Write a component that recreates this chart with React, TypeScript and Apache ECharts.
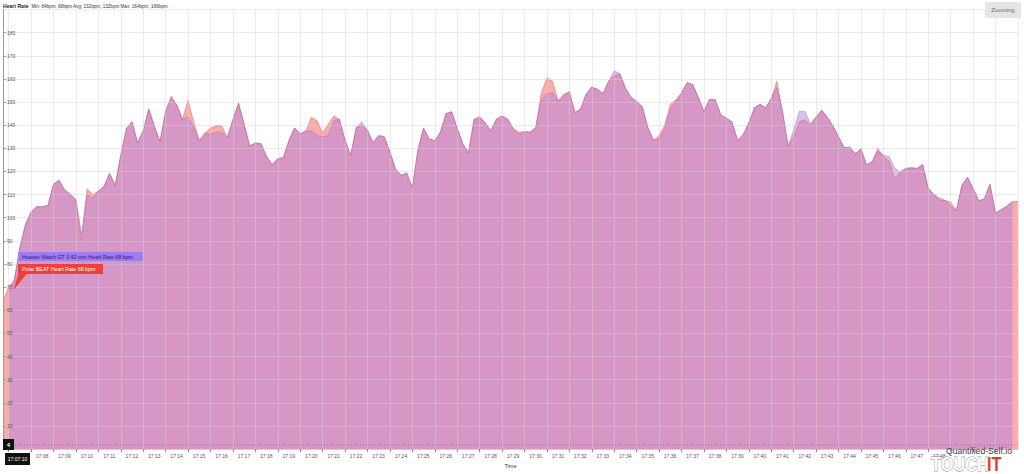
import React, { useEffect, useRef } from 'react';
import * as echarts from 'echarts';

// Time base: first Polar sample 17:06:45, one sample every 15 s
const START = Date.UTC(2022, 5, 1, 17, 6, 45);
const STEP_MS = 15000;

const polarBeat = [
  64, 70, 73, 87, 97, 102.5, 104.8, 104.8, 105.3, 114.5,
  116.2, 112, 110.2, 107.8, 90, 112.5, 110, 111.5, 113.5, 119.2,
  114, 127, 138.5, 141.5, 132.5, 137.5, 147, 139.5, 133, 146,
  152, 148.7, 142.5, 150.8, 141.5, 133.4, 136.5, 138.8, 139.8, 139.8,
  134.7, 142.5, 149.5, 140.5, 131, 132.3, 132, 126.5, 122.6, 125.5,
  126, 133.5, 138.8, 136.3, 137.5, 143.4, 142, 136.5, 140.5, 144,
  142.5, 133.5, 127, 139, 140, 137.7, 132.5, 135.5, 135, 128.5,
  121, 118.4, 119.5, 113, 129.5, 138.8, 134, 133.5, 137, 145,
  145.8, 138.7, 132, 128, 142.5, 143.8, 141, 137.5, 142.7, 144,
  142.6, 138.5, 137, 137.2, 137, 139, 154, 160.5, 159, 150.5,
  153.2, 154.5, 145.5, 147, 153.5, 156.5, 155.5, 153.7, 159, 161.5,
  162, 156, 152.1, 150.2, 148, 139, 133.5, 135.5, 140, 149,
  151, 154, 158.4, 157.5, 152, 146, 151.2, 151, 144.5, 143,
  141.5, 133.4, 136, 141, 147.5, 149, 147.5, 151.5, 159, 146,
  131, 135, 141.5, 142.3, 140, 143.5, 146.5, 143.4, 139.7, 135,
  130.3, 130.5, 127.6, 129.8, 122.8, 124.3, 130, 126.5, 124.5, 117,
  119.8, 121.3, 121.6, 121.3, 123, 112.7, 110, 108.5, 107.5, 106.8,
  103, 114, 117.5, 112.7, 107.3, 108.2, 114.5, 102, 103.5, 105,
  107, 107,
];

const huaweiGT3 = [
  null, 68, 73, 87, 97, 102.5, 104.8, 104.8, 105.3, 114.5,
  116.2, 112, 110.2, 107.8, 93, 110, 108.5, 111.5, 113.5, 119.2,
  114, 127, 138.5, 141.5, 132.5, 137.5, 147, 139.5, 133, 146,
  152.5, 148.7, 142.5, 143.5, 139, 133.4, 136.5, 136, 137, 137,
  134.7, 142.5, 149.5, 140.5, 131, 132.3, 132, 126.5, 123.3, 125.5,
  126, 133.5, 138.8, 136.3, 137.5, 137.5, 135.5, 135, 135.5, 142,
  142.5, 133.5, 127, 139, 141.5, 137.7, 132.5, 135.5, 135, 128.5,
  121, 118.4, 119, 113, 129.5, 138.8, 134, 133, 137, 145,
  145.8, 138.7, 132, 128, 142.5, 143, 141, 137.5, 142.7, 144,
  142.6, 138.5, 136, 137.2, 137, 139, 151, 153.5, 154, 150.5,
  153.2, 154.5, 145.5, 147, 153.5, 156.5, 155.5, 153.7, 159, 163.5,
  162.3, 156, 152.1, 150.2, 148, 139, 133.5, 134, 138.5, 147,
  150, 154, 158.4, 157.5, 152, 146, 151.2, 151, 144.5, 143,
  141.5, 133.4, 136, 141, 147.5, 149, 147.5, 151.5, 156.3, 146,
  131, 138, 146, 146, 140.5, 143.5, 146.5, 143.4, 139.7, 135,
  130.3, 130.5, 127.6, 129.8, 122.8, 124.3, 128.7, 127, 126.5, 121.5,
  119.8, 121.3, 121.6, 121.3, 123, 112.7, 110, 107.5, 107.5, 105.3,
  103, 114, 117.5, 112.7, 107.3, 108.2, 114.5, 102, 103.5, 105,
  107,
];

const Y_MIN = 0;
const Y_MAX = 190;
const Y_STEP = 10;

// minute labels hidden behind the cursor box / watermark in the reference
const HIDDEN_MINUTES = [7, 49, 50, 51];

const TITLE = 'Heart Rate';
const SUBTITLE = 'Min: 64bpm, 68bpm Avg: 132bpm, 132bpm Max: 164bpm, 166bpm';
const HUAWEI_TIP = 'Huawei Watch GT 3 42 mm Heart Rate 68 bpm';
const POLAR_TIP = 'Polar BEAT Heart Rate 68 bpm';
const CURSOR_TIME = '17:07:10';
const CURSOR_VALUE = '4';

const FONT = '"Liberation Sans", Arial, sans-serif';

const toSeries = (arr: (number | null)[]) =>
  arr
    .map((v, i) => (v == null ? null : [START + i * STEP_MS, v]))
    .filter((p) => p !== null) as [number, number][];

export default function App() {
  const ref = useRef<HTMLDivElement>(null);

  useEffect(() => {
    document.body.style.margin = '0';
    if (!ref.current) return;
    const chart = echarts.init(ref.current, undefined, { renderer: 'svg' });

    const fmt = (v: number) => {
      const d = new Date(v);
      const h = d.getUTCHours();
      const m = d.getUTCMinutes();
      if (h === 17 && HIDDEN_MINUTES.includes(m)) return '';
      return `${h}:${String(m).padStart(2, '0')}`;
    };

    chart.setOption({
      animation: false,
      backgroundColor: '#ffffff',
      textStyle: { fontFamily: FONT },
      grid: { left: 3, right: 6, top: 9.5, bottom: 21.7, containLabel: false },
      xAxis: {
        type: 'time',
        min: START,
        max: START + (polarBeat.length - 1) * STEP_MS,
        splitNumber: 45,
        minInterval: 60000,
        maxInterval: 60000,
        z: 4,
        axisLine: { show: true, lineStyle: { color: '#cfcfcf', width: 1 } },
        axisTick: { show: true, length: 3, lineStyle: { color: '#8a8a8a' } },
        axisLabel: {
          fontSize: 5,
          color: '#555',
          margin: 4,
          padding: [0, 0, 0, 22],
          showMinLabel: false,
          showMaxLabel: false,
          formatter: fmt,
        },
        splitLine: { show: true, lineStyle: { color: 'rgba(210,210,210,0.45)', width: 1 } },
        name: 'Time',
        nameLocation: 'middle',
        nameGap: 13,
        nameTextStyle: { fontSize: 5.5, color: '#333', fontFamily: FONT },
      },
      yAxis: {
        type: 'value',
        min: Y_MIN,
        max: Y_MAX,
        interval: Y_STEP,
        z: 4,
        axisLine: { show: true, lineStyle: { color: '#9a9a9a', width: 1 } },
        axisTick: { show: true, inside: true, length: 3, lineStyle: { color: '#9a9a9a' } },
        axisLabel: {
          inside: true,
          fontSize: 5,
          color: '#555',
          margin: 4,
          showMinLabel: false,
          showMaxLabel: false,
        },
        splitLine: { show: true, lineStyle: { color: 'rgba(210,210,210,0.45)', width: 1 } },
      },
      series: [
        {
          type: 'line',
          name: 'Polar BEAT Heart Rate',
          data: toSeries(polarBeat),
          symbol: 'none',
          showSymbol: false,
          z: 2,
          itemStyle: { color: '#f5554b' },
          lineStyle: { width: 0.8, color: 'rgba(230,90,85,0.6)' },
          areaStyle: { color: 'rgba(246,90,82,0.5)', opacity: 1 },
        },
        {
          type: 'line',
          name: 'Huawei Watch GT 3 42 mm Heart Rate',
          data: toSeries(huaweiGT3),
          symbol: 'none',
          showSymbol: false,
          z: 2,
          itemStyle: { color: '#af7de1' },
          lineStyle: { width: 0.8, color: 'rgba(150,95,190,0.5)' },
          areaStyle: { color: 'rgba(178,128,228,0.5)', opacity: 1 },
        },
      ],
      graphic: [
        {
          type: 'text', x: 3, y: 6, z: 100,
          style: { text: TITLE, fontSize: 5.1, fontWeight: 'bold', fill: '#222', fontFamily: FONT, verticalAlign: 'middle' },
        },
        {
          type: 'text', x: 31.5, y: 6, z: 100,
          style: { text: SUBTITLE, fontSize: 4.6, fill: '#333', fontFamily: FONT, verticalAlign: 'middle' },
        },
        {
          type: 'rect', z: 100, shape: { x: 985, y: 2, width: 36, height: 16, r: 1 },
          style: { fill: '#e5e5e5' },
        },
        {
          type: 'text', x: 1003, y: 10, z: 101,
          style: { text: 'Zooming', fontSize: 6, fill: '#666', fontFamily: FONT, align: 'center', verticalAlign: 'middle' },
        },
        // cursor
        {
          type: 'line', z: 90, shape: { x1: 3, y1: 445, x2: 1018, y2: 445 },
          style: { stroke: 'rgba(0,0,0,0.4)', lineWidth: 0.8, lineDash: [1, 2] },
        },
        {
          type: 'rect', z: 100, shape: { x: 18, y: 251.5, width: 125, height: 10 },
          style: { fill: 'rgb(160,122,240)', stroke: 'rgba(200,180,250,0.9)', lineWidth: 0.5 },
        },
        {
          type: 'text', x: 22, y: 256.7, z: 101,
          style: { text: HUAWEI_TIP, fontSize: 5.3, fill: '#2b1d6b', fontFamily: FONT, verticalAlign: 'middle' },
        },
        {
          type: 'polygon', z: 99, shape: { points: [[19, 272], [27, 273.5], [13.5, 290]] },
          style: { fill: '#ef3f39' },
        },
        {
          type: 'rect', z: 100, shape: { x: 18, y: 264, width: 85, height: 10 },
          style: { fill: '#ef3f39' },
        },
        {
          type: 'text', x: 22, y: 269.2, z: 101,
          style: { text: POLAR_TIP, fontSize: 5.3, fill: '#ffffff', fontFamily: FONT, verticalAlign: 'middle' },
        },
        {
          type: 'rect', z: 100, shape: { x: 3, y: 439, width: 11, height: 11 },
          style: { fill: '#111' },
        },
        {
          type: 'text', x: 8.5, y: 444.7, z: 101,
          style: { text: CURSOR_VALUE, fontSize: 6, fontWeight: 'bold', fill: '#fff', fontFamily: FONT, align: 'center', verticalAlign: 'middle' },
        },
        {
          type: 'rect', z: 100, shape: { x: 5, y: 453, width: 25, height: 12 },
          style: { fill: '#111' },
        },
        {
          type: 'text', x: 17.5, y: 459.2, z: 101,
          style: { text: CURSOR_TIME, fontSize: 5, fill: '#fff', fontFamily: FONT, align: 'center', verticalAlign: 'middle' },
        },
        // watermark
        {
          type: 'text', x: 946, y: 450.5, z: 100,
          style: { text: 'Quantified-Self.io', fontSize: 8.6, fill: '#3c3c3c', fontFamily: FONT, verticalAlign: 'middle' },
        },
        {
          type: 'text', x: 931, y: 474, z: 100, scaleX: 0.78,
          style: { text: 'TOUCH', fontSize: 21, fontWeight: 'bold', fill: '#ffffff', stroke: '#8a8a8a', lineWidth: 0.9, fontFamily: FONT, verticalAlign: 'bottom' },
        },
        {
          type: 'text', x: 987, y: 474, z: 100, scaleX: 0.78,
          style: { text: 'IT', fontSize: 21, fontWeight: 'bold', fill: '#e53b2f', stroke: '#ffffff', lineWidth: 0.6, fontFamily: FONT, verticalAlign: 'bottom' },
        },
      ],
    });

    return () => chart.dispose();
  }, []);

  return <div ref={ref} style={{ width: 1024, height: 474 }} />;
}
